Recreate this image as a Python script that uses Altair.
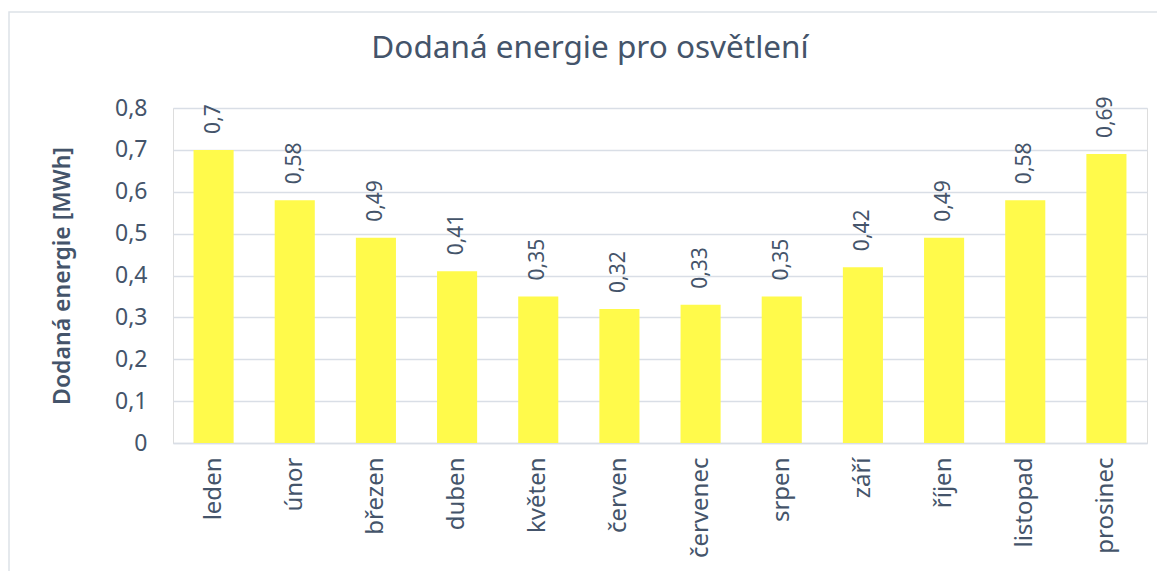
import altair as alt
import pandas as pd

months = ["leden", "únor", "březen", "duben", "květen", "červen",
          "červenec", "srpen", "září", "říjen", "listopad", "prosinec"]
values = [0.7, 0.58, 0.49, 0.41, 0.35, 0.32, 0.33, 0.35, 0.42, 0.49, 0.58, 0.69]
labels = ["0,7", "0,58", "0,49", "0,41", "0,35", "0,32", "0,33", "0,35", "0,42", "0,49", "0,58", "0,69"]
y_ticks = [0, 0.1, 0.2, 0.3, 0.4, 0.5, 0.6, 0.7, 0.8]

df = pd.DataFrame({"mesic": months, "hodnota": values, "popisek": labels})

TEXT = "#44546A"
GRID = "#D9DEE6"
FONT = "Noto Sans"

x_enc = alt.X("mesic:N", sort=months,
              scale=alt.Scale(paddingInner=0.506, paddingOuter=0.253),
              axis=alt.Axis(title=None, labelAngle=270, labelFontSize=24,
                            labelColor=TEXT, labelFont=FONT, labelPadding=14,
                            ticks=False, domainColor=GRID, domainWidth=1.5,
                            labelAlign="right", labelBaseline="middle"))
y_enc = alt.Y("hodnota:Q",
              scale=alt.Scale(domain=[0, 0.8], nice=False),
              axis=alt.Axis(title="Dodaná energie [MWh]", values=y_ticks,
                            format=",.1~f", labelExpr="replace(datum.label, '.', ',')",
                            labelFontSize=23, labelColor=TEXT, labelFont=FONT,
                            labelPadding=26, ticks=False, domain=False,
                            gridColor=GRID, gridWidth=1.5,
                            titleFontSize=23, titleFontWeight=600, titleColor=TEXT,
                            titleFont=FONT, titlePadding=40))

frame = alt.Chart(pd.DataFrame({"a": [0]})).mark_rect(
    fill=None, stroke="#DDE2E8", strokeWidth=1.5
).encode(x=alt.value(-164), x2=alt.value(1000), y=alt.value(-96), y2=alt.value(480))

bars = alt.Chart(df).mark_bar(color="#FFFA4B").encode(x=x_enc, y=y_enc)

text = alt.Chart(df).mark_text(
    angle=270, align="left", baseline="middle", dx=16,
    fontSize=21, font=FONT, color=TEXT
).encode(x=alt.X("mesic:N", sort=months), y="hodnota:Q", text="popisek:N")

chart = alt.layer(frame, bars, text).properties(
    width=974, height=335,
    title=alt.TitleParams("Dodaná energie pro osvětlení", fontSize=31.5, font=FONT,
                          color=TEXT, fontWeight="normal", anchor="middle",
                          baseline="alphabetic",
                          frame="group", dx=-70, offset=-78),
    autosize=alt.AutoSizeParams(type="none"),
    padding={"left": 165, "top": 100, "right": 10, "bottom": 128},
).configure_view(stroke=None).configure(background="white")

chart.save("out.html", embed_options={"renderer": "svg", "actions": False})
